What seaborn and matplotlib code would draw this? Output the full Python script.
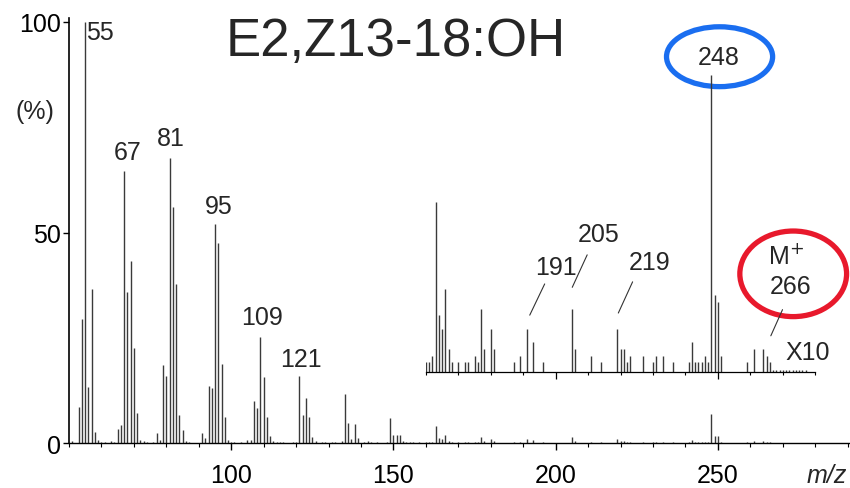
import numpy as np
import matplotlib
matplotlib.use("Agg")
import matplotlib.pyplot as plt
from matplotlib.patches import Ellipse
import seaborn as sns

# mass spectrum of E2,Z13-18:OH (relative intensity, %)
mz = [51, 53, 54, 55, 56, 57, 58, 59, 60, 61, 63, 64, 65, 66, 67, 68, 69, 70, 71, 72,
      73, 74, 76, 77, 78, 79, 80, 81, 82, 83, 84, 85, 86, 87, 91, 92, 93, 94, 95, 96,
      97, 98, 99, 100, 101, 103, 105, 106, 107, 108, 109, 110, 111, 112, 113, 114, 115,
      116, 119, 120, 121, 122, 123, 124, 125, 126, 128, 129, 131, 132, 134, 135, 136,
      137, 138, 139, 141, 142, 143, 145, 148, 149, 150, 151, 152, 153, 154, 155, 156,
      158,
      160, 161, 162, 163, 164, 165, 166, 167, 168, 170, 172, 173, 175, 176, 177, 178,
      180, 181, 187, 189, 191, 193, 196, 205, 206, 211, 214, 219, 220, 221, 222, 223,
      227, 230, 231, 233, 236, 241, 242, 243, 244, 245, 246, 247, 248, 249, 250, 251,
      259, 261, 264, 265, 266, 267, 268, 269, 270, 271, 272, 273, 274, 275, 276, 277]
intensity = [0.6, 8.6, 29.6, 100, 13.4, 36.7, 2.7, 0.8, 0.4, 0.3, 0.5, 0.4, 3.5, 4.3,
             64.5, 35.9, 43.2, 22.7, 7.3, 0.8, 0.5, 0.3, 0.3, 2.5, 0.8, 18.6, 16.0, 67.6,
             56.1, 37.8, 6.7, 3.1, 0.6, 0.3, 2.4, 1.3, 13.7, 13.0, 52.0, 47.5, 18.7, 6.2,
             0.7, 0.3, 0.4, 0.4, 0.8, 0.8, 10.0, 8.3, 25.3, 15.8, 6.3, 1.7, 0.6, 0.3, 0.3,
             0.3, 0.2, 0.2, 16.0, 6.6, 10.7, 6.2, 1.5, 0.6, 0.3, 0.3, 0.3, 0.3, 0.6, 11.6,
             4.7, 1.0, 4.5, 1.2, 0.3, 0.5, 0.3, 0.2, 0.3, 6.1, 2.0, 2.0, 2.0, 0.5, 0.3,
             0.3, 0.3, 0.3,
             0.22, 0.22, 0.37, 4.03, 1.34, 1.01, 1.96, 0.53, 0.22, 0.22, 0.22, 0.22, 0.37,
             0.22, 1.49, 0.53, 1.01, 0.53, 0.22, 0.37, 1.01, 0.70, 0.22, 1.49, 0.53, 0.37,
             0.22, 1.01, 0.53, 0.53, 0.22, 0.37, 0.37, 0.22, 0.37, 0.37, 0.22, 0.22, 0.70,
             0.22, 0.22, 0.22, 0.37, 0.22, 7.04, 1.82, 1.66, 0.37, 0.22, 0.53, 0.53, 0.37,
             0.22, 0.05, 0.05, 0.05, 0.05, 0.05, 0.05, 0.05, 0.05, 0.05, 0.05, 0.05]

main_labels = ["55", "67", "81", "95", "109", "121"]
main_label_x = [55.3, 68.2, 81.5, 96.2, 109.6, 121.4]
main_label_y = [97.5, 69.1, 72.3, 56.4, 29.9, 20.0]

inset_labels = ["191", "205", "219"]
inset_peaks = [191, 205, 219]
inset_label_x = [200.0, 213.3, 228.8]
inset_label_y = [41.7, 49.6, 42.9]

zoom_factor = 10
inset_start = 160

sns.set_theme(style="white")
plt.rcParams["font.family"] = ["Liberation Sans", "DejaVu Sans"]

fig = plt.figure(figsize=(8.5, 4.89), dpi=100)
ax = fig.add_axes([69 / 850, 1 - 444.3 / 489, 1 - 69 / 850, (444.3 - 18.5) / 489])

mz = np.array(mz)
intensity = np.array(intensity)
ax.vlines(mz, 0, intensity, color="#3a3a3a", lw=1.0)

ax.set_xlim(50, 290.7)
ax.set_ylim(0, 101)
sns.despine(ax=ax)
ax.spines["left"].set_color("black")
ax.spines["bottom"].set_color("black")
ax.spines["left"].set_linewidth(1.2)
ax.spines["bottom"].set_linewidth(1.0)
ax.set_xticks([100, 150, 200, 250])
ax.set_xticks(np.arange(50, 291, 10), minor=True)
ax.set_yticks([0, 50, 100])
ax.tick_params(axis="x", which="major", direction="out", length=5, width=1,
               color="black", labelsize=18, pad=9, bottom=True)
ax.tick_params(axis="x", which="minor", direction="out", length=3, width=0.8,
               color="black", bottom=True)
ax.tick_params(axis="y", direction="out", length=4, width=1, color="black",
               labelsize=18, pad=2, left=True)
for lab in ax.get_xticklabels() + ax.get_yticklabels():
    lab.set_color("black")

for t, x, y in zip(main_labels, main_label_x, main_label_y):
    ax.text(x, y, t, fontsize=18, ha="left" if t == "55" else "center", va="center")

# x10 inset sharing the m/z scale
base = 17.0
inset_top = 83.0
ins = ax.inset_axes([inset_start, base, 280 - inset_start, inset_top],
                    transform=ax.transData)
sel = mz >= inset_start
ins.vlines(mz[sel], 0, intensity[sel] * zoom_factor, color="#3a3a3a", lw=1.0)
ins.set_xlim(inset_start, 280)
ins.set_ylim(0, inset_top)
ins.patch.set_alpha(0)
sns.despine(ax=ins, left=True)
ins.spines["bottom"].set_color("black")
ins.spines["bottom"].set_linewidth(0.9)
ins.set_yticks([])
ins.set_xticks([200, 250])
ins.set_xticks(np.arange(160, 281, 10), minor=True)
ins.tick_params(axis="x", which="major", direction="out", length=5, width=0.9,
                color="black", labelbottom=False, bottom=True)
ins.tick_params(axis="x", which="minor", direction="out", length=2.5, width=0.8,
                color="black", bottom=True)

# labels inside the inset (main data units)
leader_start = [(196.6, 37.8), (209.7, 44.7), (223.7, 38.3)]
leader_end = [(192.0, 30.4), (205.1, 37.0), (219.3, 30.9)]
for t, x, y, s, e in zip(inset_labels, inset_label_x, inset_label_y, leader_start, leader_end):
    ax.text(x, y, t, fontsize=18, ha="center", va="center")
    ax.plot([s[0], e[0]], [s[1], e[1]], color="#333333", lw=0.8)

ax.text(250.3, 91.6, "248", fontsize=18, ha="center", va="center")
ax.add_patch(Ellipse((250.5, 91.7), 32.7, 14.2, fill=False, ec="#1a6ef0", lw=3.8,
                     clip_on=False))

ax.text(271.0, 44.5, "M$^{+}$", fontsize=18, ha="center", va="center")
ax.text(272.5, 37.4, "266", fontsize=18, ha="center", va="center")
ax.add_patch(Ellipse((273.2, 40.2), 32.9, 20.3, fill=False, ec="#e8192c", lw=3.8,
                     clip_on=False))
ax.plot([269.9, 266.3], [31.7, 25.5], color="#333333", lw=0.8)
ax.text(277.7, 21.7, "X10", fontsize=18, ha="center", va="center")

fig.text(396 / 850, 1 - 42 / 489, "E2,Z13-18:OH", fontsize=38, ha="center", va="center")
fig.text(35 / 850, 1 - 112 / 489, "(%)", fontsize=18, ha="center", va="center")
fig.text(826.7 / 850, 1 - 476 / 489, "m/z", fontsize=18, style="italic",
         ha="center", va="center")

fig.savefig("out.png", dpi=100)
